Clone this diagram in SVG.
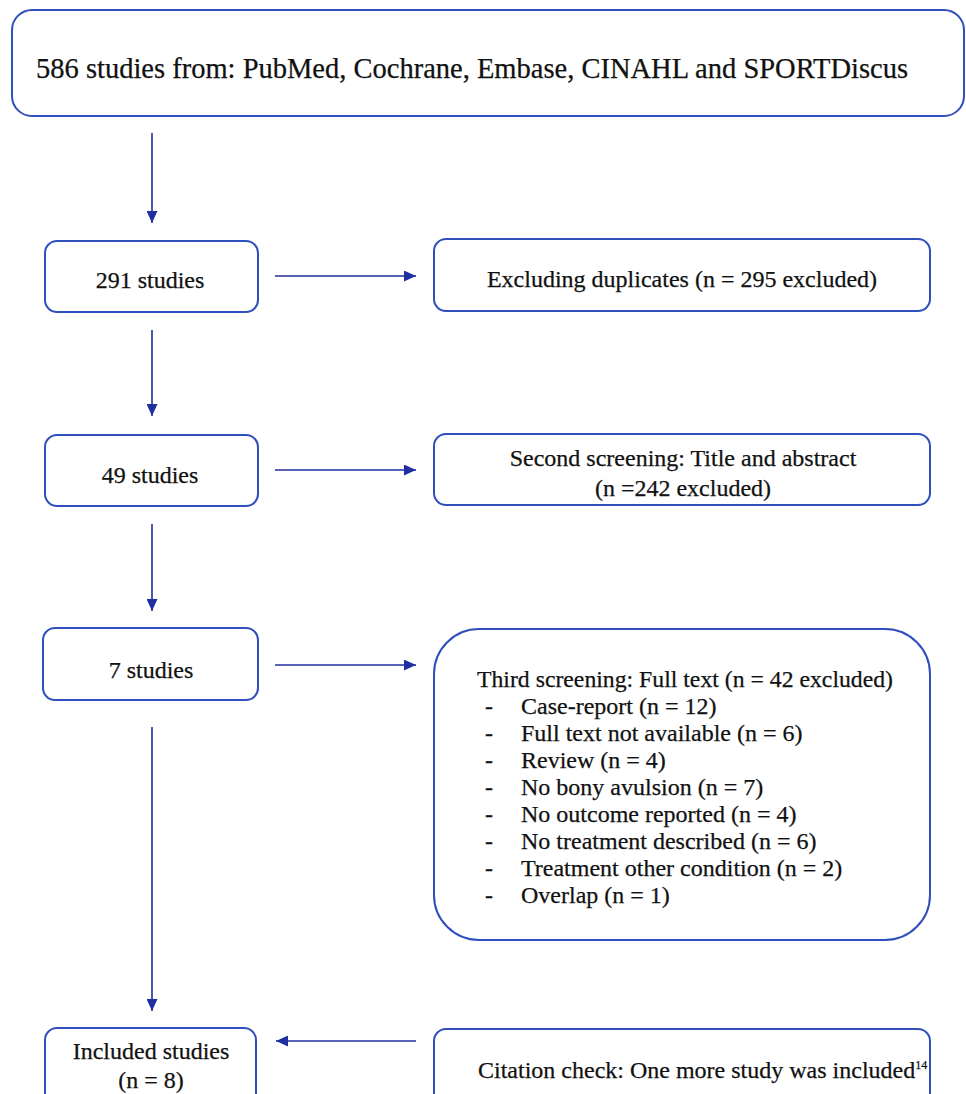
<svg xmlns="http://www.w3.org/2000/svg" width="966" height="1094" viewBox="0 0 966 1094">
<defs>
<style>
.box{fill:#fff;stroke:#2f4fbf;stroke-width:2}
.t{font-family:"Liberation Serif","Times New Roman",serif;font-size:24px;fill:#111;stroke:#111;stroke-width:0.25}
.c{text-anchor:middle}
.big{font-size:28.5px}
.con line{stroke:#1f2f9f;stroke-width:1.6}
</style>
<marker id="ah" viewBox="0 0 10 10" refX="10" refY="5" markerWidth="12" markerHeight="11" markerUnits="userSpaceOnUse" orient="auto" preserveAspectRatio="none">
<path d="M0,0 L10,5 L0,10 z" fill="#1f2f9f"/>
</marker>
</defs>
<rect width="966" height="1094" fill="#fff"/>
<g id="n_sources">
<rect class="box" x="12" y="10" width="952" height="106" rx="20"/>
<text class="t c big" x="472" y="78">586 studies from: PubMed, Cochrane, Embase, CINAHL and SPORTDiscus</text>
</g>
<g id="n_291">
<rect class="box" x="45" y="241" width="213" height="71" rx="12"/>
<text class="t c" x="150" y="288">291 studies</text>
</g>
<g id="n_dup">
<rect class="box" x="434" y="239" width="496" height="72" rx="12"/>
<text class="t c" x="682" y="287">Excluding duplicates (n = 295 excluded)</text>
</g>
<g id="n_49">
<rect class="box" x="45" y="435" width="213" height="71" rx="12"/>
<text class="t c" x="150" y="483">49 studies</text>
</g>
<g id="n_second">
<rect class="box" x="434" y="434" width="496" height="71" rx="12"/>
<text class="t c" x="683" y="466">Second screening: Title and abstract</text>
<text class="t c" x="683" y="496">(n =242 excluded)</text>
</g>
<g id="n_7">
<rect class="box" x="43" y="628" width="215" height="72" rx="12"/>
<text class="t c" x="151" y="678">7 studies</text>
</g>
<g id="n_third">
<rect class="box" x="434" y="629" width="496" height="311" rx="45"/>
<text class="t" x="477" y="687" textLength="416" lengthAdjust="spacingAndGlyphs">Third screening: Full text (n = 42 excluded)</text>
<text class="t" x="485" y="714">-</text><text class="t" x="521" y="714">Case-report (n = 12)</text>
<text class="t" x="485" y="741">-</text><text class="t" x="521" y="741">Full text not available (n = 6)</text>
<text class="t" x="485" y="768">-</text><text class="t" x="521" y="768">Review (n = 4)</text>
<text class="t" x="485" y="795">-</text><text class="t" x="521" y="795">No bony avulsion (n = 7)</text>
<text class="t" x="485" y="822">-</text><text class="t" x="521" y="822">No outcome reported (n = 4)</text>
<text class="t" x="485" y="849">-</text><text class="t" x="521" y="849">No treatment described (n = 6)</text>
<text class="t" x="485" y="876">-</text><text class="t" x="521" y="876">Treatment other condition (n = 2)</text>
<text class="t" x="485" y="903">-</text><text class="t" x="521" y="903">Overlap (n = 1)</text>
</g>
<g id="n_included">
<rect class="box" x="45" y="1028" width="211" height="80" rx="12"/>
<text class="t c" x="151" y="1059">Included studies</text>
<text class="t c" x="151" y="1088">(n = 8)</text>
</g>
<g id="n_citation">
<rect class="box" x="434" y="1029" width="496" height="80" rx="12"/>
<text class="t" x="478" y="1078">Citation check: One more study was included<tspan font-size="12" dy="-9">14</tspan></text>
</g>
<g id="connectors" class="con">
<line x1="152" y1="133" x2="152" y2="223" marker-end="url(#ah)"/>
<line x1="152" y1="330" x2="152" y2="416" marker-end="url(#ah)"/>
<line x1="152" y1="524" x2="152" y2="611" marker-end="url(#ah)"/>
<line x1="152" y1="727" x2="152" y2="1011" marker-end="url(#ah)"/>
<line x1="275" y1="276" x2="416" y2="276" marker-end="url(#ah)"/>
<line x1="275" y1="470" x2="416" y2="470" marker-end="url(#ah)"/>
<line x1="275" y1="665" x2="416" y2="665" marker-end="url(#ah)"/>
<line x1="416" y1="1041" x2="276" y2="1041" marker-end="url(#ah)"/>
</g>
</svg>
